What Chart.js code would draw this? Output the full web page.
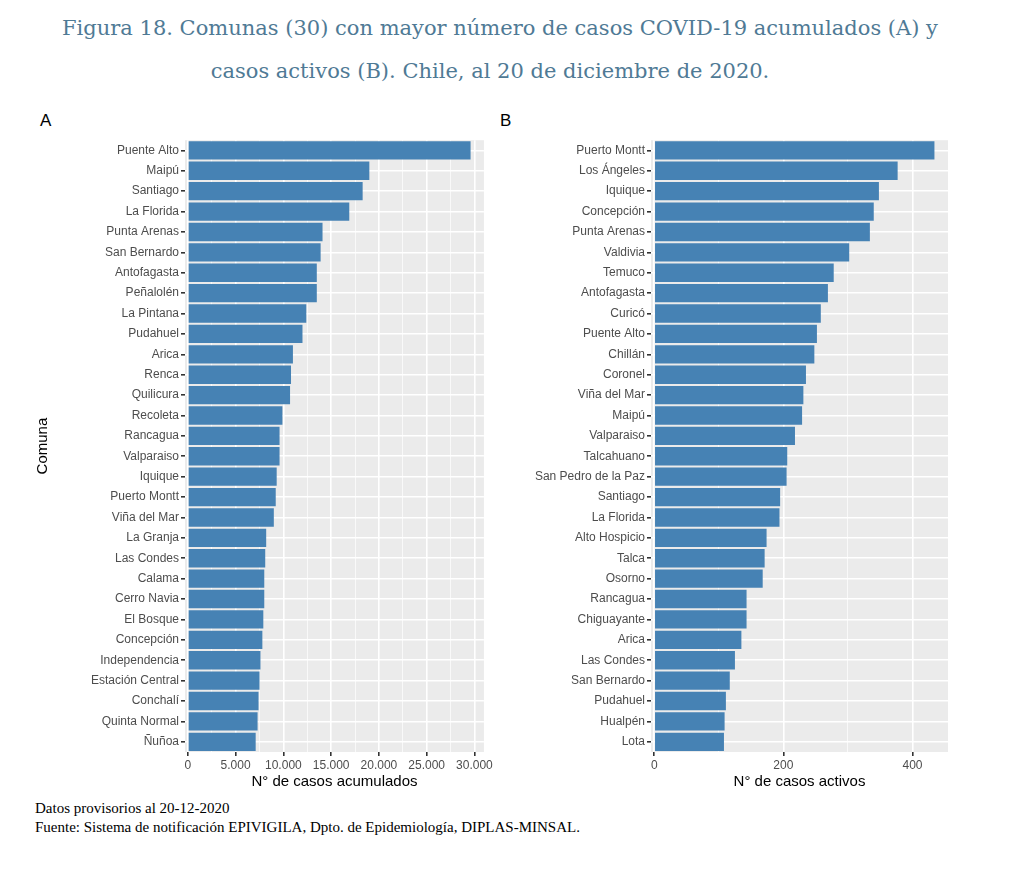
<!DOCTYPE html>
<html><head><meta charset="utf-8">
<script src="https://cdn.jsdelivr.net/npm/chart.js@4"></script>
<style>
body{margin:0;background:#fff;width:1020px;height:870px;position:relative;overflow:hidden;font-family:"Liberation Sans",Arial,sans-serif}
.t{position:absolute;left:0;width:1000px;text-align:center;font-family:"DejaVu Serif","Liberation Serif",serif;font-size:21px;color:#4f7a95}
.lab{position:absolute;font-size:17px;color:#000}
.foot{position:absolute;left:35px;font-family:"Liberation Serif",serif;font-size:15px;color:#000}
.c{position:absolute}
</style></head><body>
<div class="t" style="top:16px">Figura 18. Comunas (30) con mayor número de casos COVID-19 acumulados (A) y</div>
<div class="t" style="top:59px;left:-10px">casos activos (B). Chile, al 20 de diciembre  de 2020.</div>
<div class="lab" style="left:40px;top:111px">A</div>
<div class="lab" style="left:500px;top:111px">B</div>
<div class="c" style="left:30px;top:131px;width:465px;height:664px"><canvas id="a"></canvas></div>
<div class="c" style="left:500px;top:131px;width:455px;height:664px"><canvas id="b"></canvas></div>
<div class="foot" style="top:800px">Datos provisorios al 20-12-2020</div>
<div class="foot" style="top:819px">Fuente: Sistema de notificación EPIVIGILA, Dpto. de Epidemiología, DIPLAS-MINSAL.</div>
<script>
const comunasA=["Puente Alto","Maipú","Santiago","La Florida","Punta Arenas","San Bernardo","Antofagasta","Peñalolén","La Pintana","Pudahuel","Arica","Renca","Quilicura","Recoleta","Rancagua","Valparaiso","Iquique","Puerto Montt","Viña del Mar","La Granja","Las Condes","Calama","Cerro Navia","El Bosque","Concepción","Independencia","Estación Central","Conchalí","Quinta Normal","Ñuñoa"];
const casosAcumulados=[29600,19000,18300,16900,14100,13900,13500,13500,12400,12000,11000,10800,10700,9900,9600,9600,9300,9200,9000,8200,8100,8000,8000,7900,7800,7600,7500,7400,7300,7100];
const comunasB=["Puerto Montt","Los Ángeles","Iquique","Concepción","Punta Arenas","Valdivia","Temuco","Antofagasta","Curicó","Puente Alto","Chillán","Coronel","Viña del Mar","Maipú","Valparaiso","Talcahuano","San Pedro de la Paz","Santiago","La Florida","Alto Hospicio","Talca","Osorno","Rancagua","Chiguayante","Arica","Las Condes","San Bernardo","Pudahuel","Hualpén","Lota"];
const casosActivos=[434,377,348,340,334,302,278,269,258,252,248,235,231,229,218,206,205,195,194,174,171,168,143,143,135,125,117,111,109,108];

const bg={id:'bg',beforeDraw(c){const a=c.chartArea,x=c.ctx;x.save();x.fillStyle='#EBEBEB';x.fillRect(a.left,a.top,a.right-a.left,a.bottom-a.top);x.restore();}};
function make(id,labels,data,opt){
 new Chart(document.getElementById(id),{type:'bar',plugins:[bg],
  data:{labels,datasets:[{data,backgroundColor:'#4682B4',categoryPercentage:1,barPercentage:0.9}]},
  options:{indexAxis:'y',responsive:true,maintainAspectRatio:false,animation:false,
   layout:{padding:{right:opt.pr,left:0,top:0,bottom:0}},
   plugins:{legend:{display:false},tooltip:{enabled:false}},
   scales:{
    x:{min:opt.min,max:opt.max,border:{display:false},
     afterFit(s){s.height=43},
     afterBuildTicks(s){const t=[];for(let v=0;v<=opt.max;v+=opt.step)t.push({value:v});s.ticks=t;},
     grid:{color:'#fff',lineWidth:c=>(c.tick&&c.tick.value%opt.major===0)?1.6:0.7,tickColor:c=>(c.tick&&c.tick.value%opt.major===0)?'#333':'rgba(0,0,0,0)',tickLength:4},
     ticks:{color:'#4d4d4d',font:{size:12,family:'Liberation Sans'},maxRotation:0,autoSkip:false,padding:2,
      callback:v=>v%opt.major===0?(v>=1000?v.toLocaleString('de-DE'):String(v)):''},
     title:{display:true,text:opt.title,color:'#000',font:{size:15,family:'Liberation Sans'},padding:{top:0}}},
    y:{border:{display:false},afterFit(s){s.width=opt.yw},
     grid:{color:'#fff',lineWidth:1.6,offset:false,tickColor:'#333',tickLength:4},
     ticks:{color:'#4d4d4d',font:{size:12,family:'Liberation Sans'},autoSkip:false,padding:2},
     title:{display:opt.ytitle,text:'Comuna',color:'#000',font:{size:15,family:'Liberation Sans'},padding:{bottom:0}}}
   }}});
}
make('a',comunasA,casosAcumulados,{min:-300,max:31000,step:2500,major:5000,title:'N° de casos acumulados',yw:155,pr:8,ytitle:true});
make('b',comunasB,casosActivos,{min:-5,max:455,step:100,major:200,title:'N° de casos activos',yw:151,pr:7,ytitle:false});
</script></body></html>
